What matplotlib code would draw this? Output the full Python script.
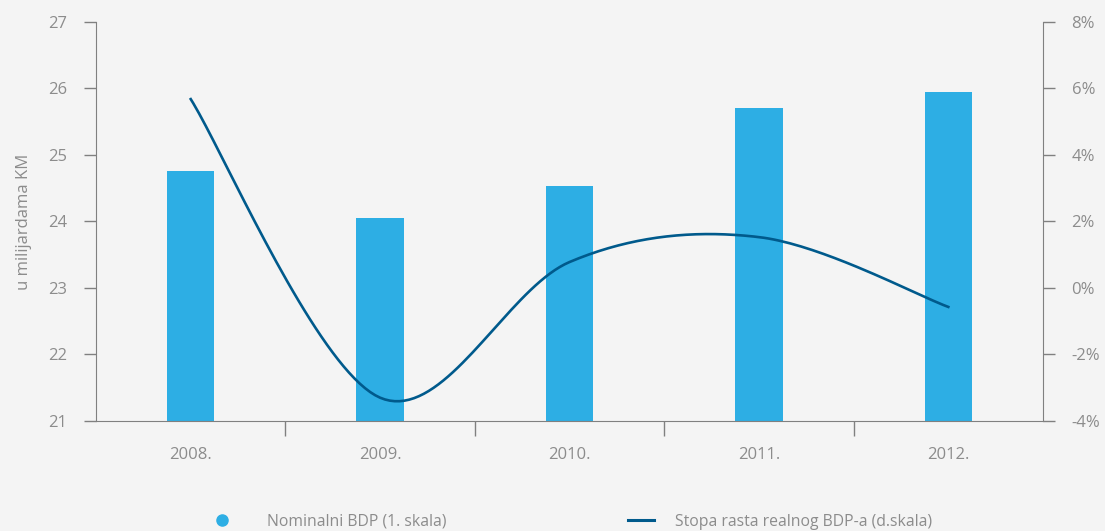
import numpy as np
import matplotlib.pyplot as plt
from matplotlib.lines import Line2D

godine = ['2008.', '2009.', '2010.', '2011.', '2012.']
bdp_nominalni = [24.76, 24.05, 24.53, 25.71, 25.95]  # milijarde KM
stopa_rasta = [5.68, -3.3, 0.78, 1.53, -0.57]  # %

siva = '#8c8c8c'
plt.rcParams['font.family'] = ['Open Sans', 'DejaVu Sans']
plt.rcParams['font.size'] = 12


def catmull_rom(x, y, n=40):
    # glatka linija kroz tocke (kao "smoothed line" u Excelu)
    p = np.column_stack([x, y]).astype(float)
    p = np.vstack([p[0], p, p[-1]])
    out = []
    for i in range(1, len(p) - 2):
        p0, p1, p2, p3 = p[i - 1], p[i], p[i + 1], p[i + 2]
        t = np.linspace(0, 1, n)[:, None]
        seg = 0.5 * ((2 * p1) + (-p0 + p2) * t + (2 * p0 - 5 * p1 + 4 * p2 - p3) * t**2
                     + (-p0 + 3 * p1 - 3 * p2 + p3) * t**3)
        out.append(seg)
    out = np.vstack(out)
    return out[:, 0], out[:, 1]


fig = plt.figure(figsize=(11.05, 5.31), dpi=100, facecolor='#f4f4f4')
ax = fig.add_axes([0.0869, 0.2072, 0.857, 0.7514], facecolor='#f4f4f4')
x = np.arange(len(godine))
ax.bar(x, bdp_nominalni, width=0.25, color='#2daee4', zorder=2)
ax.set_ylim(21, 27)
ax.set_xlim(-0.5, 4.5)
ax.set_yticks(range(21, 28))
ax.set_xticks(x)
ax.set_xticklabels(godine)
ax.set_xticks(np.arange(0.5, 4.5, 1), minor=True)
ax.tick_params(axis='x', which='major', length=0, pad=19, colors=siva)
ax.tick_params(axis='x', which='minor', length=11, width=1, color='#808080')
ax.tick_params(axis='y', length=8.6, width=1, color='#808080', labelcolor=siva, pad=12)
ax.set_ylabel('u milijardama KM', color=siva, labelpad=12)
for s in ['left', 'bottom', 'right']:
    ax.spines[s].set_color('#808080')
ax.spines['top'].set_visible(False)

ax2 = ax.twinx()
xs, ys = catmull_rom(x, stopa_rasta)
ax2.plot(xs, ys, color='#005a8c', lw=1.9, zorder=3)
ax2.set_ylim(-4, 8)
ax2.set_yticks(range(-4, 9, 2))
ax2.set_yticklabels([f'{v}%' for v in range(-4, 9, 2)])
ax2.tick_params(axis='y', length=8.6, width=1, color='#808080', labelcolor=siva, pad=12)
for s in ['left', 'bottom', 'right', 'top']:
    ax2.spines[s].set_visible(False)

leg_fs = 11.3
h1 = Line2D([], [], ls='none', marker='o', ms=8, color='#2daee4')
h2 = Line2D([], [], color='#005a8c', lw=2.2)
leg1 = fig.legend([h1], ['Nominalni BDP (1. skala)'], loc='center left',
                  bbox_to_anchor=(214 / 1105, 0.017), frameon=False, fontsize=leg_fs,
                  borderpad=0, borderaxespad=0, handlelength=1.0, handletextpad=2.36)
leg2 = fig.legend([h2], ['Stopa rasta realnog BDP-a (d.skala)'], loc='center left',
                  bbox_to_anchor=(628 / 1105, 0.017), frameon=False, fontsize=leg_fs,
                  borderpad=0, borderaxespad=0, handlelength=1.66, handletextpad=1.34)
for leg in (leg1, leg2):
    for t in leg.get_texts():
        t.set_color(siva)

fig.savefig('out.png', dpi=100, facecolor=fig.get_facecolor())
